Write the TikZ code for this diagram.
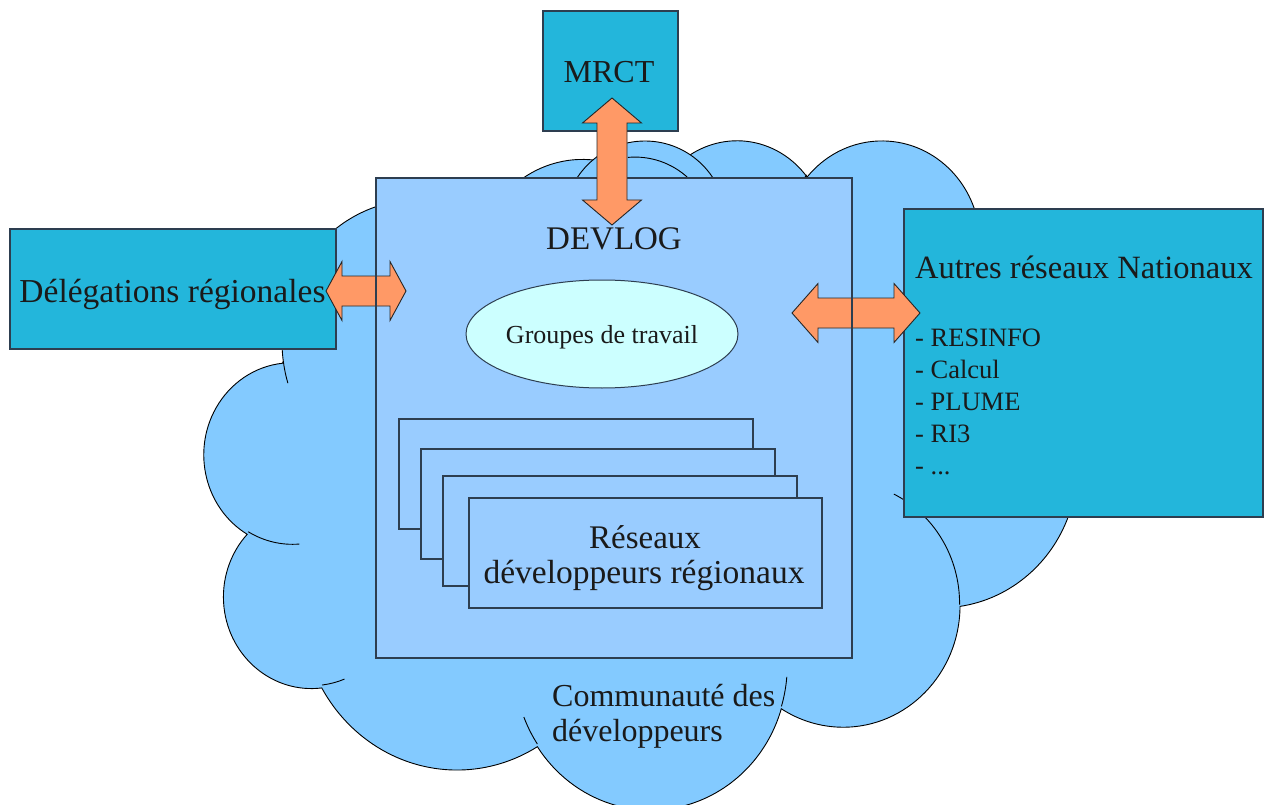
\documentclass[tikz,border=0pt]{standalone}
\usepackage{fontspec}
\setmainfont{Liberation Serif}
\usetikzlibrary{calc,shapes.geometric}
\definecolor{cloudc}{RGB}{131,202,255}
\definecolor{devc}{RGB}{153,204,255}
\definecolor{ellc}{RGB}{204,255,255}
\definecolor{cyanc}{RGB}{35,182,219}
\definecolor{orangec}{RGB}{255,153,102}
\definecolor{edgec}{RGB}{45,62,80}
\definecolor{txtc}{RGB}{26,26,26}
\newcommand{\cldarc}[4]{arc[x radius=#1, y radius=#2, start angle={#3+cd(#1,#2,#3)}, delta angle={#4+cd(#1,#2,#3+#4)-cd(#1,#2,#3)}]}
\newcommand{\hdbl}[3]{\draw[blockarrow] (#1) -- ++(#3,-29.5) -- ++(0,14.5) -- ($(#2)+(-#3,-15)$) -- ++(0,-14.5) -- (#2) -- ++(-#3,29.5) -- ++(0,-14.5) -- ($(#1)+(#3,15)$) -- ++(0,14.5) -- cycle;}
\newcommand{\vdbl}[3]{\draw[blockarrow] (#1) -- ++(29.5,#3) -- ++(-14.5,0) -- ($(#2)+(15,-#3)$) -- ++(14.5,0) -- (#2) -- ++(-29.5,-#3) -- ++(14.5,0) -- ($(#1)+(-15,#3)$) -- ++(-14.5,0) -- cycle;}
\tikzset{
  cloudshape/.style={fill=cloudc, draw=black, line width=0.9pt},
  cloudline/.style={draw=black, line width=0.9pt},
  devbox/.style={draw=edgec, fill=devc, line width=1.2pt, inner sep=0pt, outer sep=0pt},
  cyanbox/.style={draw=edgec, fill=cyanc, line width=1.2pt, inner sep=0pt, outer sep=0pt},
  stackbox/.style={draw=edgec, fill=devc, line width=1.2pt, inner sep=0pt, outer sep=0pt, minimum height=110pt},
  grpell/.style={ellipse, draw=edgec, fill=ellc, line width=1pt, inner sep=0pt, minimum width=272pt, minimum height=108pt},
  blockarrow/.style={draw=black!85, fill=orangec, line width=0.9pt, line join=miter},
  lbl/.style={text=txtc, inner sep=0pt, anchor=base},
  lbll/.style={lbl, anchor=base west},
  fsz/.style={font=\fontsize{#1}{#1}\selectfont},
  big/.style={fsz=33},
  small/.style={fsz=26.5},
}
\begin{document}
\begin{tikzpicture}[x=1pt, y=-1pt,
  declare function={cd(\rx,\ry,\an)=atan2((\rx-\ry)*sin(\an)*cos(\an),\ry*cos(\an)*cos(\an)+\rx*sin(\an)*sin(\an));}]
\useasboundingbox (0,0) rectangle (1264,805);
% cloud
\begin{scope}[shift={(204.5pt,-138.6pt)}, x=20.2pt, y=-15.488pt]
\path[cloudshape] (3.900,14.370)
  \cldarc{6.753}{9.190}{-190.48748}{123.78053}
  \cldarc{5.333}{7.267}{-144.10238}{89.94523}
  \cldarc{4.365}{5.945}{-145.80792}{99.72302}
  \cldarc{4.857}{6.595}{-130.98607}{117.24173}
  \cldarc{5.333}{7.273}{-78.70888}{109.02692}
  \cldarc{6.775}{9.220}{-46.26725}{130.269}
  \cldarc{5.785}{7.867}{0.62502}{114.03333}
  \cldarc{6.752}{9.215}{22.4516}{115.17255}
  \cldarc{7.720}{10.543}{66.24263}{75.71102}
  \cldarc{4.360}{5.918}{-274.94208}{146.73557}
  \cldarc{4.345}{5.945}{-246.8285}{152.51885}
  -- cycle;
\path[cloudline]
  (4.693,26.177) \cldarc{4.345}{5.945}{86.742}{26.4295}
  (6.928,34.899) \cldarc{4.360}{5.918}{73.61047}{11.44747}
  (16.478,39.090) \cldarc{6.752}{9.215}{137.62415}{14.0811}
  (28.827,34.751) \cldarc{6.752}{9.215}{6.45327}{15.99835}
  (34.129,22.954) \cldarc{5.785}{7.867}{-70.29235}{70.91737}
  (41.798,15.354) \cldarc{5.333}{7.273}{30.31803}{27.7515}
  (38.324,5.426) \cldarc{4.857}{6.595}{-13.74433}{14.8589}
  (29.078,3.952) \cldarc{4.857}{6.595}{-149.18145}{18.19537}
  (22.141,4.720) \cldarc{4.365}{5.945}{-163.49427}{17.68635}
  (14.000,5.192) \cldarc{6.753}{9.190}{-66.70695}{12.31935}
  (4.127,15.789) \cldarc{6.753}{9.190}{157.65435}{11.85393};
\end{scope}
% extra top bump of the cloud (behind DEVLOG)
\path[cloudshape] (645,222) circle[radius=81];
\path[cloudline] (627.8,157.4) arc[radius=78, start angle=-95.3, end angle=-47];
\node[lbll, fsz=32] (comm1) at (552,706) {Communauté des};
\node[lbll, fsz=32] (comm2) at (552,741) {développeurs};
% DEVLOG
\node[devbox, minimum width=476pt, minimum height=480pt] (devlog) at (614,418) {};
\node[lbl, big] (devlogt) at (614,250) {DEVLOG};
\node[grpell] (grp) at (602,334) {};
\node[lbl, fsz=26] (grpt) at (602,343) {Groupes de travail};
\node[stackbox, minimum width=354pt] (st1) at (576,474) {};
\node[stackbox, minimum width=354pt] (st2) at (598,504) {};
\node[stackbox, minimum width=354pt] (st3) at (620,531) {};
\node[stackbox, minimum width=353pt] (st4) at (645.5,553) {};
\node[lbl, big] (rest1) at (645,548) {Réseaux};
\node[lbl, fsz=33.5] (rest2) at (644,583) {développeurs régionaux};
% outer boxes
\node[cyanbox, minimum width=135pt, minimum height=120pt] (mrct) at (610.5,71) {};
\node[lbl, fsz=32] (mrctt) at (609,83) {MRCT};
\node[cyanbox, minimum width=326pt, minimum height=120pt] (deleg) at (173,289) {};
\node[lbl, fsz=33.5] (delegt) at (172.5,302) {Délégations régionales};
\node[cyanbox, minimum width=359pt, minimum height=308pt] (autres) at (1083.5,363) {};
\node[lbll, fsz=32.5] (autt) at (915,278) {Autres réseaux Nationaux};
\node[lbll, small] (aut1) at (915,346) {- RESINFO};
\node[lbll, small] (aut2) at (915,378) {- Calcul};
\node[lbll, small] (aut3) at (915,410) {- PLUME};
\node[lbll, small] (aut4) at (915,442) {- RI3};
\node[lbll, small] (aut5) at (915,474) {- ...};
% arrows
\coordinate (aLl) at (326,291);
\coordinate (aLr) at (406,291);
\coordinate (aRl) at (792,313);
\coordinate (aRr) at (920,313);
\coordinate (aVt) at (612,98);
\coordinate (aVb) at (612,225);
\hdbl{aLl}{aLr}{16}
\hdbl{aRl}{aRr}{26}
\vdbl{aVt}{aVb}{25}
\draw[draw=edgec, line width=1.2pt] (devlog.north west) -- (devlog.south west) (devlog.north east) -- (devlog.south east);
\end{tikzpicture}
\end{document}
